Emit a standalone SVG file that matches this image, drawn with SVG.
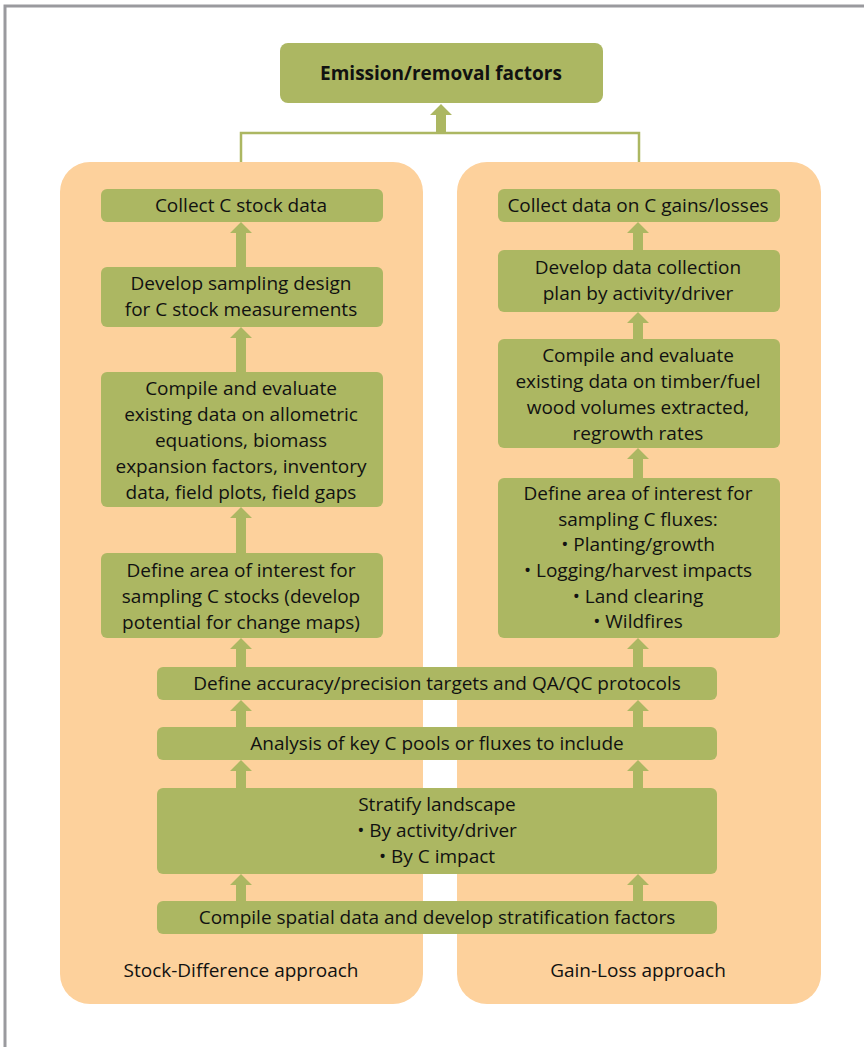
<svg xmlns="http://www.w3.org/2000/svg" width="864" height="1047" viewBox="0 0 864 1047">
  <defs>
    <style>
      .panel { fill: #FDD19C; }
      .box { fill: #ACB762; }
      .t { font-family: "Open Sans", "Noto Sans", sans-serif; font-size: 19px; fill: #111; text-anchor: middle; }
      .title { font-weight: bold; font-size: 19px; }
      .link { fill: none; stroke: #ACB762; stroke-width: 2.5; }
      .arrow { fill: #ACB762; }
    </style>
  </defs>

  <rect width="864" height="1047" fill="#fff"/>
  <!-- page frame -->
  <path d="M5,1047 L5,6 L864,6" fill="none" stroke="#9a9a9e" stroke-width="3"/>

  <!-- approach panels -->
  <g id="panel-stock-difference">
    <rect class="panel" x="60" y="162" width="363" height="842" rx="30"/>
    <text class="t" x="241" y="977">Stock-Difference approach</text>
  </g>
  <g id="panel-gain-loss">
    <rect class="panel" x="457" y="162" width="364" height="842" rx="30"/>
    <text class="t" x="638" y="977">Gain-Loss approach</text>
  </g>

  <!-- connectors: block arrows pointing up from each step to the next -->
  <g id="connectors" class="arrow">
    <path class="link" d="M241,162 V133 H639 V162"/>
    <path d="M441,104 L452,115 L446,115 L446,134 L436,134 L436,115 L430,115 Z"/>
    <!-- left column -->
    <path d="M241,222 l11,11 h-6 v34 h-10 v-34 h-6 Z"/>
    <path d="M241,327 l11,11 h-6 v34 h-10 v-34 h-6 Z"/>
    <path d="M241,507 l11,11 h-6 v35 h-10 v-35 h-6 Z"/>
    <path d="M241,638 l11,11 h-6 v18 h-10 v-18 h-6 Z"/>
    <path d="M241,700 l11,11 h-6 v16 h-10 v-16 h-6 Z"/>
    <path d="M241,760 l11,11 h-6 v17 h-10 v-17 h-6 Z"/>
    <path d="M241,874 l11,11 h-6 v16 h-10 v-16 h-6 Z"/>
    <!-- right column -->
    <path d="M638,222 l11,11 h-6 v17 h-10 v-17 h-6 Z"/>
    <path d="M638,312 l11,11 h-6 v16 h-10 v-16 h-6 Z"/>
    <path d="M638,448 l11,11 h-6 v19 h-10 v-19 h-6 Z"/>
    <path d="M638,638 l11,11 h-6 v18 h-10 v-18 h-6 Z"/>
    <path d="M638,700 l11,11 h-6 v16 h-10 v-16 h-6 Z"/>
    <path d="M638,760 l11,11 h-6 v17 h-10 v-17 h-6 Z"/>
    <path d="M638,874 l11,11 h-6 v16 h-10 v-16 h-6 Z"/>
  </g>

  <g id="emission-removal-factors">
    <rect class="box" x="280" y="43" width="323" height="60" rx="8"/>
    <text class="t title" x="441" y="80">Emission/removal factors</text>
  </g>

  <!-- stock-difference steps -->
  <g id="collect-c-stock">
    <rect class="box" x="101" y="189" width="282" height="33" rx="6"/>
    <text class="t" x="241" y="212">Collect C stock data</text>
  </g>
  <g id="sampling-design">
    <rect class="box" x="101" y="267" width="282" height="60" rx="6"/>
    <text class="t" x="241" y="290">Develop sampling design</text>
    <text class="t" x="241" y="316">for C stock measurements</text>
  </g>
  <g id="compile-allometric">
    <rect class="box" x="101" y="372" width="282" height="135" rx="6"/>
    <text class="t" x="241" y="395">Compile and evaluate</text>
    <text class="t" x="241" y="421">existing data on allometric</text>
    <text class="t" x="241" y="447">equations, biomass</text>
    <text class="t" x="241" y="473">expansion factors, inventory</text>
    <text class="t" x="241" y="499">data, field plots, field gaps</text>
  </g>
  <g id="define-area-stocks">
    <rect class="box" x="101" y="553" width="282" height="85" rx="6"/>
    <text class="t" x="241" y="577">Define area of interest for</text>
    <text class="t" x="241" y="603">sampling C stocks (develop</text>
    <text class="t" x="241" y="629">potential for change maps)</text>
  </g>

  <!-- gain-loss steps -->
  <g id="collect-gains-losses">
    <rect class="box" x="498" y="189" width="282" height="33" rx="6"/>
    <text class="t" x="638" y="212">Collect data on C gains/losses</text>
  </g>
  <g id="collection-plan">
    <rect class="box" x="498" y="250" width="282" height="62" rx="6"/>
    <text class="t" x="638" y="274">Develop data collection</text>
    <text class="t" x="638" y="300">plan by activity/driver</text>
  </g>
  <g id="compile-timber">
    <rect class="box" x="498" y="339" width="282" height="109" rx="6"/>
    <text class="t" x="638" y="362">Compile and evaluate</text>
    <text class="t" x="638" y="388">existing data on timber/fuel</text>
    <text class="t" x="638" y="414">wood volumes extracted,</text>
    <text class="t" x="638" y="440">regrowth rates</text>
  </g>
  <g id="define-area-fluxes">
    <rect class="box" x="498" y="478" width="282" height="160" rx="6"/>
    <text class="t" x="638" y="500">Define area of interest for</text>
    <text class="t" x="638" y="526">sampling C fluxes:</text>
    <text class="t" x="638" y="551">• Planting/growth</text>
    <text class="t" x="638" y="577">• Logging/harvest impacts</text>
    <text class="t" x="638" y="603">• Land clearing</text>
    <text class="t" x="638" y="628">• Wildfires</text>
  </g>

  <!-- shared steps -->
  <g id="accuracy-targets">
    <rect class="box" x="157" y="667" width="560" height="33" rx="6"/>
    <text class="t" x="437" y="690">Define accuracy/precision targets and QA/QC protocols</text>
  </g>
  <g id="key-pools">
    <rect class="box" x="157" y="727" width="560" height="33" rx="6"/>
    <text class="t" x="437" y="750">Analysis of key C pools or fluxes to include</text>
  </g>
  <g id="stratify-landscape">
    <rect class="box" x="157" y="788" width="560" height="86" rx="6"/>
    <text class="t" x="437" y="811">Stratify landscape</text>
    <text class="t" x="437" y="837">• By activity/driver</text>
    <text class="t" x="437" y="863">• By C impact</text>
  </g>
  <g id="spatial-data">
    <rect class="box" x="157" y="901" width="560" height="33" rx="6"/>
    <text class="t" x="437" y="924">Compile spatial data and develop stratification factors</text>
  </g>
</svg>
